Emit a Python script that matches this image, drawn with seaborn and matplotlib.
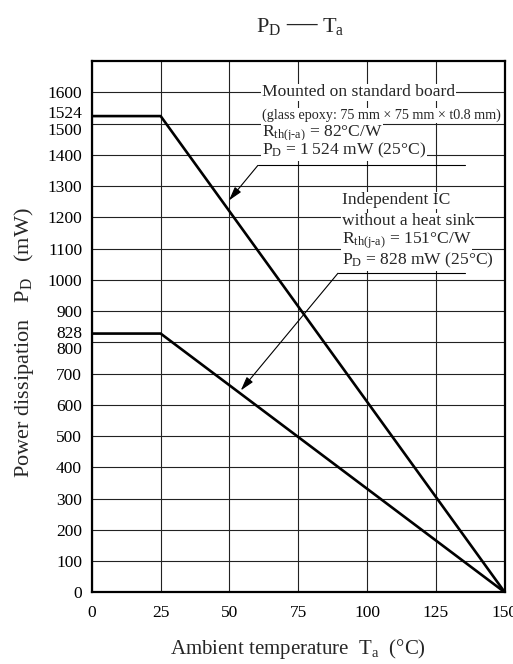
import matplotlib
matplotlib.use("Agg")
import matplotlib.pyplot as plt
import matplotlib.transforms as mtransforms
import seaborn as sns
import pandas as pd

# ---- data ----
temps = [0, 25, 150]
pd_board = [1524, 1524, 0]      # mounted on standard board
pd_ic = [828, 828, 0]           # independent IC without heat sink
x_ticks = [0, 25, 50, 75, 100, 125, 150]
y_ticks = list(range(0, 1700, 100))
y_extra_ticks = [1524, 828]

RTH = "R$_\\mathrm{th(j\\text{-}a)}$"
PDS = "P$_\\mathrm{D}$"
board_text = ["Mounted on standard board",
              "(glass epoxy: 75 mm \u00d7 75 mm \u00d7 t0.8 mm)",
              RTH + " = 82\u00b0C/W",
              PDS + " = 1\u2009524 mW (25\u00b0C)"]
ic_text = ["Independent IC",
           "without a heat sink",
           RTH + " = 151\u00b0C/W",
           PDS + " = 828 mW (25\u00b0C)"]

sns.set_theme(style="white")
plt.rcParams["font.family"] = ["Liberation Serif", "DejaVu Serif"]
plt.rcParams["mathtext.fontset"] = "custom"
plt.rcParams["mathtext.rm"] = "Liberation Serif"
plt.rcParams["mathtext.it"] = "Liberation Serif:italic"
plt.rcParams["mathtext.default"] = "rm"

df = pd.DataFrame({
    "Ta": temps * 2,
    "PD": pd_board + pd_ic,
    "series": ["board"] * len(temps) + ["ic"] * len(temps),
})

fig = plt.figure(figsize=(5.13, 6.64), dpi=100)
ax = fig.add_axes([0.179, 0.108, 0.805, 0.800])

sns.lineplot(data=df, x="Ta", y="PD", units="series", estimator=None,
             color="black", lw=1.9, ax=ax, legend=False, zorder=3)

ax.set_xlim(0, 150)
ax.set_ylim(0, 1700)
ax.set_xticks(x_ticks)
ax.set_xticklabels([str(t) for t in x_ticks])
ax.set_yticks(y_ticks)
ax.set_yticklabels([str(t) for t in y_ticks])
ax.set_yticks(y_extra_ticks, minor=True)
ax.set_yticklabels([str(t) for t in y_extra_ticks], minor=True)
ax.tick_params(axis="both", which="both", length=0, labelsize=12.5,
               colors="black", pad=7)
ax.tick_params(axis="x", pad=9)
ax.grid(True, which="major", color="#222222", lw=0.8)
ax.grid(False, which="minor")
for s in ax.spines.values():
    s.set_visible(True)
    s.set_color("black")
    s.set_linewidth(1.6)
    s.set_zorder(4)

# nudge crowded tick labels apart (as in the reference)
for lab in ax.get_yticklabels():
    if lab.get_text() in ("1500", "800"):
        lab.set_transform(lab.get_transform() +
                          mtransforms.ScaledTranslation(0, -4 / 72, fig.dpi_scale_trans))
for lab in ax.get_yticklabels(minor=True):
    dy = 3 if lab.get_text() == "1524" else 1
    lab.set_transform(lab.get_transform() +
                      mtransforms.ScaledTranslation(0, dy / 72, fig.dpi_scale_trans))

ax.set_xlabel("Ambient temperature  T$_\\mathrm{a}$  (\u00b0C)", fontsize=15,
              labelpad=14)
ax.set_ylabel("Power dissipation   P$_\\mathrm{D}$   (mW)", fontsize=16,
              labelpad=12)
ax.yaxis.set_label_coords(-0.135, 0.47)
ax.xaxis.set_label_coords(0.5, -0.085)

# title: P_D — T_a
title_y = 0.952
fig.text(0.549, title_y, "P$_\\mathrm{D}$", fontsize=16, ha="right", va="baseline")
fig.text(0.588, title_y, "\u2014", fontsize=22, ha="center", va="baseline")
fig.text(0.627, title_y, "T$_\\mathrm{a}$", fontsize=16, ha="left", va="baseline")

bb = dict(facecolor="white", edgecolor="none", pad=0.5)

board_x = 61.7
board_y = [1600, 1526, 1469, 1414]
board_sizes = [12.6, 10.2, 12.6, 12.6]
for t, yy, fs in zip(board_text, board_y, board_sizes):
    ax.text(board_x, yy, t, fontsize=fs, ha="left", va="center", bbox=bb, zorder=5)

ic_x = 90.8
ic_y = [1254, 1187, 1126, 1062]
for t, yy in zip(ic_text, ic_y):
    ax.text(ic_x, yy, t, fontsize=12.6, ha="left", va="center", bbox=bb, zorder=5)

# leader lines + arrows
board_leader_x = [60.3, 135.5]
board_leader_y = 1366
board_arrow_tip = (49.8, 1254)
ic_leader_x = [89.4, 135.5]
ic_leader_y = 1021
ic_arrow_tip = (54.1, 646)

ax.plot(board_leader_x, [board_leader_y] * 2, color="black", lw=0.8, zorder=5)
ax.plot(ic_leader_x, [ic_leader_y] * 2, color="black", lw=0.8, zorder=5)
ap = dict(arrowstyle="-|>,head_length=0.7,head_width=0.2", color="black",
          lw=0.8, shrinkA=0, shrinkB=0)
ax.annotate("", xy=board_arrow_tip, xytext=(board_leader_x[0], board_leader_y),
            arrowprops=ap, zorder=5)
ax.annotate("", xy=ic_arrow_tip, xytext=(ic_leader_x[0], ic_leader_y),
            arrowprops=ap, zorder=5)

fig.savefig("out.png", dpi=100, facecolor="white")
